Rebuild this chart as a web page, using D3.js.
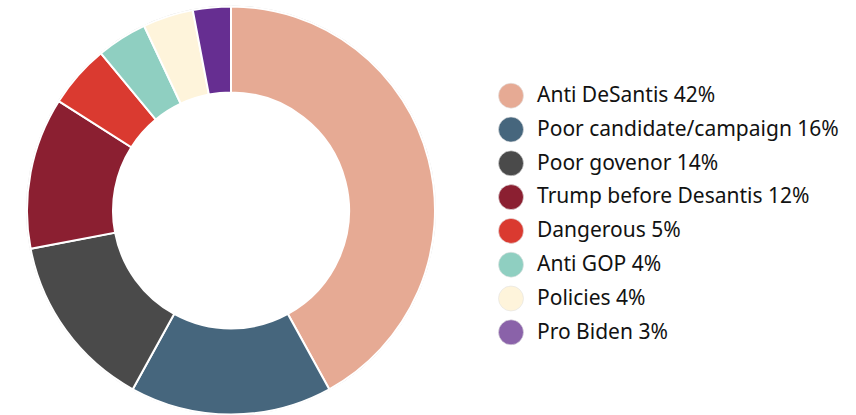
<!DOCTYPE html>
<html>
<head>
<meta charset="utf-8">
<script src="https://cdn.jsdelivr.net/npm/d3@7"></script>
<style>
  html, body { margin: 0; padding: 0; background: #fff; }
  svg { display: block; }
</style>
</head>
<body>
<svg id="chart" width="856" height="415"></svg>
<script>
// Reasons given for the vote, share of respondents (%)
const categories = [
  "Anti DeSantis",
  "Poor candidate/campaign",
  "Poor govenor",
  "Trump before Desantis",
  "Dangerous",
  "Anti GOP",
  "Policies",
  "Pro Biden"
];
const values = [42, 16, 14, 12, 5, 4, 4, 3];
const sliceColors = ["#e6aa94", "#46667d", "#4a4a4a", "#8b1f31", "#da3a30", "#8fcfc1", "#fef4db", "#662e91"];
const legendColors = ["#e6aa94", "#46667d", "#4a4a4a", "#8b1f31", "#da3a30", "#8fcfc1", "#fef4db", "#8a62a9"];

const data = categories.map((c, i) => ({ label: c, value: values[i], i }));

const svg = d3.select("#chart");
const cx = 231, cy = 210.5;
const outerR = 204, innerR = 118;

const pie = d3.pie().sort(null).value(d => d.value);
const arc = d3.arc().innerRadius(innerR).outerRadius(outerR);

const g = svg.append("g").attr("transform", `translate(${cx},${cy})`);

// faint rim around the ring
g.append("circle")
  .attr("r", outerR + 0.5)
  .attr("fill", "none")
  .attr("stroke", "#d6d6d6")
  .attr("stroke-width", 1);

g.selectAll("path.slice")
  .data(pie(data))
  .join("path")
  .attr("class", "slice")
  .attr("d", arc)
  .attr("fill", d => sliceColors[d.data.i])
  .attr("stroke", "#fff")
  .attr("stroke-width", 2);

// Legend
const legendY = d3.scalePoint()
  .domain(categories)
  .range([95.7, 332.3]);

const legend = svg.append("g");
const rows = legend.selectAll("g.row")
  .data(data)
  .join("g")
  .attr("class", "row")
  .attr("transform", d => `translate(0,${legendY(d.label)})`);

rows.append("circle")
  .attr("cx", 511)
  .attr("cy", 0)
  .attr("r", 12.5)
  .attr("fill", d => legendColors[d.i])
  .attr("stroke", "#e2e2e2")
  .attr("stroke-width", 0.6);

rows.append("text")
  .attr("x", 537)
  .attr("y", 0)
  .attr("dy", "0.3em")
  .attr("font-family", "'Noto Sans', sans-serif")
  .attr("font-size", 21)
  .attr("fill", "#121212")
  .text(d => `${d.label} ${d.value}%`);
</script>
</body>
</html>
